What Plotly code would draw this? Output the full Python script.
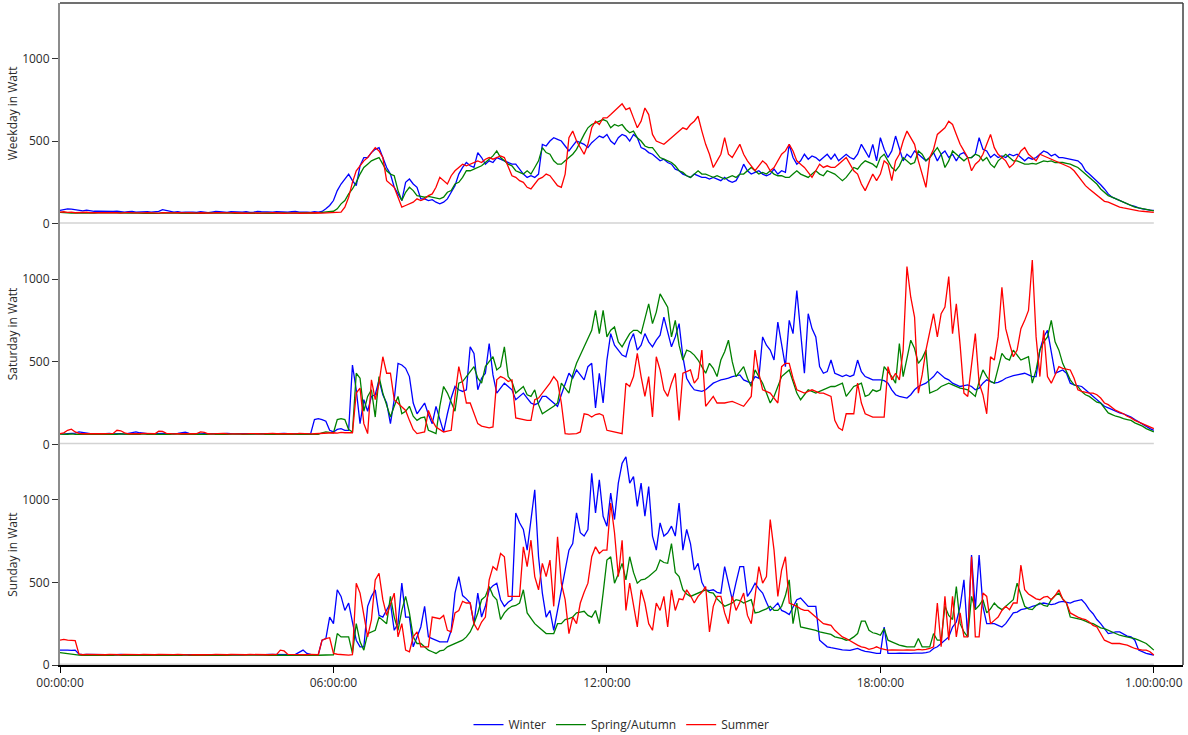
import numpy as np
import plotly.graph_objects as go
from plotly.subplots import make_subplots

# 5-minute samples, 00:00 .. 24:00 (289 values per series)
hours = np.arange(289) / 12.0

tick_hours = [0, 6, 12, 18, 24]
tick_labels = ["00:00:00", "06:00:00", "12:00:00", "18:00:00", "1.00:00:00"]
y_ticks = [0, 500, 1000]

panel_titles = ["Weekday in Watt", "Saturday in Watt", "Sunday in Watt"]
season_names = ["Winter", "Spring/Autumn", "Summer"]

# ---------------- Weekday ----------------
weekday_winter = [
    80, 85, 90, 88, 84, 80, 78, 82, 78, 75, 76, 75,
    75, 72, 74, 76, 72, 70, 72, 74, 70, 72, 71, 73,
    70, 72, 74, 85, 80, 72, 70, 72, 68, 70, 72, 70,
    68, 72, 70, 66, 70, 74, 72, 70, 68, 72, 70, 68,
    70, 72, 68, 70, 74, 72, 70, 68, 70, 72, 70, 72,
    70, 72, 74, 70, 72, 70, 68, 72, 70, 74, 90, 110,
    140, 200, 240, 270, 300, 260, 230, 350, 400, 400, 430, 450,
    460, 400, 340, 300, 220, 180, 140, 250, 270, 240, 220, 150,
    150, 140, 145, 130, 120, 130, 150, 190, 230, 300, 340, 370,
    350, 340, 430, 400, 360, 380, 370, 400, 390, 380, 370, 360,
    360, 330, 300, 280, 290, 280, 300, 480, 470, 500, 520, 510,
    500, 470, 440, 470, 500, 490, 480, 460, 490, 510, 530, 520,
    540, 500, 480, 520, 540, 530, 500, 540, 520, 460, 450, 430,
    420, 400, 380, 390, 370, 360, 330, 320, 300, 290, 280, 300,
    290, 280, 280, 270, 280, 270, 260, 280, 260, 250, 260, 300,
    360, 320, 300, 310, 320, 300, 290, 300, 330, 300, 320, 310,
    480, 400, 360, 380, 420, 390, 410, 400, 380, 400, 420, 390,
    420, 380, 400, 420, 400, 390, 420, 480, 440, 400, 480, 380,
    520, 450, 400, 440, 530, 450, 380, 420, 400, 440, 420, 400,
    380, 400, 430, 380, 420, 440, 400, 420, 380, 420, 430, 400,
    400, 420, 520, 450, 440, 400, 420, 400, 410, 400, 420, 410,
    420, 400, 380, 400, 390, 400, 420, 440, 430, 410, 420, 400,
    400, 395, 390, 385, 380, 360, 320, 300, 280, 260, 235, 210,
    180, 160, 150, 140, 130, 120, 110, 105, 95, 90, 85, 82,
    80,
]
weekday_spring = [
    68, 66, 65, 64, 66, 65, 64, 63, 65, 64, 66, 65,
    64, 63, 65, 66, 64, 62, 64, 65, 63, 64, 62, 64,
    63, 64, 62, 65, 63, 64, 66, 63, 62, 64, 63, 65,
    64, 62, 63, 65, 64, 62, 63, 64, 65, 63, 62, 64,
    63, 65, 64, 62, 63, 64, 65, 63, 62, 64, 63, 65,
    64, 65, 63, 66, 64, 65, 66, 64, 66, 68, 70, 72,
    75, 90, 120, 140, 180, 210, 250, 300, 340, 360, 380, 390,
    400, 360, 320, 300, 290, 200, 140, 190, 220, 200, 170, 165,
    160, 165, 160, 155, 150, 160, 190, 200, 240, 250, 280, 320,
    320, 330, 340, 350, 370, 390, 410, 440, 400, 380, 360, 350,
    320, 310, 300, 320, 300, 340, 380, 460, 430, 420, 380, 360,
    360, 380, 400, 420, 450, 500, 540, 580, 600, 610, 620, 630,
    620, 580, 600, 590, 600, 570, 550, 560, 520, 500, 470, 460,
    460, 430, 400, 390, 380, 370, 350, 320, 310, 290, 280, 300,
    320, 300, 300, 290, 280, 290, 280, 270, 280, 290, 280, 300,
    300, 320, 340, 320, 300, 310, 300, 320, 300, 290, 290, 280,
    280, 300, 320, 300, 290, 280, 300, 320, 300, 290, 320, 310,
    300, 280, 260, 280, 310, 340, 330, 360, 380, 370, 360, 340,
    400, 420, 380, 340, 320, 350, 400, 380, 360, 370, 440, 420,
    380, 400, 430, 460, 420, 340, 380, 440, 420, 400, 380, 400,
    400, 420, 410, 380, 400, 360, 340, 380, 400, 420, 400, 380,
    380, 370, 360, 360, 365, 360, 370, 380, 375, 380, 370, 370,
    370, 365, 360, 350, 340, 320, 300, 280, 260, 240, 210, 190,
    170, 160, 150, 140, 130, 120, 110, 100, 95, 90, 85, 80,
    78,
]
weekday_summer = [
    70, 72, 68, 70, 66, 68, 67, 69, 66, 68, 67, 66,
    67, 65, 68, 66, 64, 66, 68, 65, 64, 66, 65, 67,
    65, 66, 64, 67, 65, 63, 65, 66, 64, 65, 66, 64,
    64, 66, 65, 63, 64, 66, 65, 64, 63, 65, 66, 64,
    65, 63, 64, 66, 65, 64, 63, 65, 66, 64, 65, 63,
    64, 66, 65, 63, 64, 66, 65, 64, 66, 64, 65, 68,
    65, 66, 70, 100, 160, 250, 320, 350, 380, 400, 430, 460,
    440, 400, 260, 240, 220, 160, 100, 110, 120, 130, 150, 140,
    150, 170, 180, 220, 280, 260, 240, 290, 320, 340, 360, 350,
    360, 370, 380, 370, 390, 400, 390, 400, 410, 400, 350, 290,
    280, 260, 250, 220, 210, 240, 270, 280, 300, 290, 260, 230,
    220, 300, 520, 560, 500, 460, 420, 480, 580, 620, 600, 640,
    640, 660, 680, 700, 725, 690, 700, 640, 580, 620, 700, 660,
    540, 500, 490, 480, 500, 520, 540, 560, 580, 570, 600, 620,
    650, 560, 480, 420, 340, 380, 420, 520, 420, 400, 440, 480,
    420, 380, 350, 320, 350, 380, 360, 320, 340, 380, 420, 440,
    480, 440, 380, 360, 340, 310, 280, 320, 360, 340, 350, 340,
    340, 360, 380, 400, 360, 320, 300, 240, 200, 250, 300, 260,
    300, 380, 360, 260, 380, 420, 500, 560, 520, 480, 380, 300,
    220, 400, 450, 540, 560, 580, 620, 600, 540, 480, 440, 400,
    320, 360, 380, 420, 480, 540, 460, 420, 400, 380, 340, 360,
    400, 440, 460, 420, 400, 380, 420, 410, 400, 390, 380, 370,
    360, 350, 340, 320, 290, 260, 230, 210, 190, 170, 150, 135,
    130, 120, 110, 100, 95, 90, 85, 80, 78, 75, 72, 70,
    68,
]

# ---------------- Saturday ----------------
saturday_winter = [
    65, 62, 64, 66, 68, 75, 72, 66, 64, 65, 63, 64,
    64, 66, 63, 65, 64, 62, 66, 72, 75, 70, 65, 64,
    63, 65, 64, 66, 65, 63, 64, 66, 72, 74, 66, 64,
    65, 63, 64, 66, 65, 64, 63, 65, 66, 64, 63, 65,
    64, 66, 65, 63, 64, 65, 66, 64, 63, 65, 64, 66,
    65, 64, 66, 65, 64, 63, 65, 150, 155, 150, 140, 85,
    75, 90, 95, 85, 85, 480, 330, 125, 270, 200, 290, 300,
    390, 300, 250, 125, 270, 490, 480, 460, 410, 250, 185, 220,
    250, 180, 125, 230, 150, 75, 185, 280, 350, 330, 320, 330,
    590, 550, 330, 400, 430, 610, 420, 310, 340, 370, 350, 330,
    270, 290, 310, 280, 250, 240, 250, 290, 290, 270, 250, 230,
    300, 370, 430, 400, 450, 420, 390, 470, 490, 220, 430, 250,
    510, 670, 600, 570, 540, 530, 620, 670, 570, 600, 670, 620,
    590, 630, 660, 770, 680, 590, 650, 730, 530, 400, 360, 330,
    325, 320, 330, 350, 370, 380, 390, 395, 400, 410, 415, 420,
    390, 380, 370, 410, 400, 650, 600, 570, 510, 740, 600, 470,
    750, 670, 930, 690, 430, 790, 700, 650, 470, 430, 440, 510,
    430, 420, 410, 420, 410, 420, 510, 440, 410, 400, 390, 390,
    390, 385, 370, 330, 300, 290, 285, 280, 300, 330, 350, 360,
    370, 390, 410, 440, 420, 400, 390, 370, 360, 350, 355, 360,
    350, 330, 340, 370, 390, 380, 370, 375, 385, 400, 410, 415,
    420, 425, 430, 420, 410, 410, 570, 650, 690, 560, 430, 440,
    450, 430, 370, 360, 355, 350, 330, 310, 290, 270, 250, 230,
    220, 210, 200, 190, 185, 175, 165, 150, 135, 125, 110, 95,
    85,
]
saturday_spring = [
    62, 60, 61, 63, 60, 62, 61, 60, 62, 61, 60, 62,
    61, 60, 62, 61, 63, 60, 61, 62, 60, 61, 63, 60,
    62, 61, 60, 62, 61, 60, 63, 61, 60, 62, 61, 60,
    61, 62, 60, 61, 63, 60, 62, 61, 60, 62, 61, 63,
    60, 61, 62, 60, 61, 63, 60, 62, 61, 60, 62, 61,
    60, 62, 61, 60, 62, 61, 60, 62, 61, 70, 75, 72,
    70, 150, 155, 150, 90, 75, 430, 400, 200, 290, 330, 165,
    410, 310, 240, 165, 230, 290, 185, 200, 230, 170, 145, 160,
    165, 85, 75, 65, 230, 350, 310, 260, 200, 370, 380, 410,
    440, 470, 400, 370, 470, 500, 530, 450, 470, 590, 410, 380,
    310, 330, 350, 300, 290, 330, 240, 185, 200, 210, 230, 250,
    370, 340, 310, 420, 490, 540, 590, 640, 690, 810, 670, 810,
    650, 690, 710, 620, 590, 630, 670, 690, 690, 670, 760, 850,
    730, 800, 910, 870, 830, 650, 750, 600, 510, 570, 560, 540,
    510, 470, 430, 490, 460, 410, 510, 560, 630, 500, 410, 440,
    470, 400, 350, 450, 410, 370, 310, 250, 290, 350, 410, 430,
    450, 380, 310, 270, 300, 330, 320, 310, 320, 330, 340, 350,
    350, 360, 370, 290, 320, 350, 360, 370, 290, 300, 330, 320,
    330, 470, 440, 410, 370, 610, 410, 520, 630, 580, 490, 520,
    570, 310, 320, 330, 350, 360, 370, 360, 350, 340, 335, 330,
    310, 290, 380, 450, 410, 380, 370, 460, 550, 520, 510, 570,
    540, 510, 520, 530, 370, 450, 570, 620, 650, 750, 620, 570,
    490, 440, 390, 360, 350, 320, 300, 290, 270, 255, 250, 220,
    190, 180, 170, 165, 155, 150, 145, 130, 120, 110, 95, 85,
    75,
]
saturday_summer = [
    65, 70, 85, 92, 75, 66, 64, 65, 63, 66, 65, 64,
    63, 65, 66, 85, 82, 70, 64, 63, 65, 64, 66, 64,
    63, 64, 80, 78, 66, 64, 63, 65, 64, 63, 66, 64,
    65, 75, 72, 64, 63, 65, 64, 66, 64, 63, 65, 64,
    64, 63, 65, 66, 64, 63, 65, 64, 66, 64, 63, 65,
    64, 65, 63, 66, 64, 65, 63, 64, 66, 68, 70, 68,
    70, 68, 72, 70, 68, 70, 310, 340, 125, 65, 390, 270,
    370, 530, 430, 430, 270, 250, 230, 205, 145, 90, 65, 70,
    75, 205, 145, 105, 90, 75, 80, 85, 290, 470, 370, 250,
    250, 185, 125, 110, 105, 100, 105, 390, 410, 400, 380, 390,
    160, 155, 150, 145, 145, 270, 280, 310, 340, 370, 410, 380,
    250, 65, 62, 64, 65, 75, 185, 180, 165, 180, 185, 175,
    85, 80, 75, 70, 65, 370, 350, 410, 550, 410, 290, 410,
    165, 530, 450, 330, 290, 370, 430, 145, 430, 440, 450, 370,
    400, 570, 230, 260, 290, 250, 250, 250, 255, 260, 250, 240,
    230, 260, 290, 570, 430, 330, 320, 310, 280, 250, 470, 490,
    490, 400, 330, 320, 310, 320, 330, 320, 310, 310, 300, 290,
    145, 100, 85, 185, 185, 185, 370, 250, 185, 175, 165, 165,
    165, 165, 470, 390, 430, 390, 570, 1075, 890, 770, 310, 420,
    570, 680, 790, 650, 790, 830, 1015, 670, 850, 600, 310, 290,
    480, 670, 370, 300, 185, 530, 510, 650, 950, 700, 610, 530,
    570, 700, 750, 810, 1115, 650, 410, 690, 410, 370, 420, 470,
    460, 455, 450, 400, 330, 320, 315, 310, 310, 300, 280, 250,
    240, 220, 205, 195, 185, 170, 160, 145, 135, 125, 115, 105,
    95,
]

# ---------------- Sunday ----------------
sunday_winter = [
    90, 92, 90, 88, 90, 65, 62, 64, 63, 62, 64, 63,
    62, 63, 61, 62, 64, 62, 61, 63, 62, 64, 62, 61,
    63, 62, 64, 61, 62, 63, 62, 64, 62, 61, 63, 62,
    62, 64, 63, 62, 61, 63, 64, 62, 63, 62, 61, 63,
    62, 63, 62, 64, 63, 61, 62, 64, 63, 62, 63, 62,
    63, 62, 64, 75, 90, 70, 64, 63, 62, 150, 160, 290,
    250, 455, 415, 330, 375, 260, 150, 110, 110, 355, 415, 455,
    300, 290, 330, 375, 210, 250, 495, 290, 290, 110, 170, 230,
    355, 170, 160, 150, 140, 140, 140, 210, 435, 535, 420, 400,
    375, 250, 435, 290, 355, 455, 480, 495, 395, 355, 380, 395,
    920, 860, 820, 695, 880, 1060, 655, 435, 290, 330, 210, 330,
    455, 560, 695, 735, 920, 800, 780, 820, 1160, 920, 1120, 900,
    840, 1040, 880, 1100, 1220, 1260, 1100, 1140, 960, 1100, 900, 1080,
    780, 695, 860, 780, 800, 840, 780, 980, 695, 820, 735, 575,
    615, 500, 455, 450, 455, 440, 435, 595, 495, 395, 500, 595,
    595, 415, 450, 495, 460, 435, 380, 330, 350, 375, 330, 320,
    305, 350, 395, 405, 380, 355, 355, 355, 150, 130, 110, 105,
    100, 95, 92, 90, 88, 95, 100, 90, 82, 80, 75, 70,
    70, 230, 70, 68, 70, 72, 70, 68, 70, 72, 70, 72,
    75, 80, 100, 110, 130, 150, 170, 230, 260, 355, 515, 170,
    665, 335, 665, 355, 250, 250, 250, 240, 230, 250, 280, 315,
    320, 335, 340, 345, 355, 360, 370, 375, 370, 365, 370, 380,
    385, 380, 375, 385, 390, 395, 370, 335, 310, 275, 250, 220,
    190, 195, 200, 200, 185, 175, 170, 150, 90, 80, 70, 65,
    60,
]
sunday_spring = [
    75, 72, 68, 62, 60, 60, 58, 60, 59, 60, 58, 60,
    59, 60, 58, 61, 59, 60, 58, 59, 61, 60, 58, 59,
    60, 58, 59, 61, 60, 59, 58, 60, 59, 61, 58, 60,
    59, 61, 60, 58, 59, 60, 61, 59, 58, 60, 59, 61,
    60, 59, 58, 60, 61, 59, 60, 58, 59, 61, 60, 59,
    60, 59, 61, 60, 58, 60, 62, 60, 59, 60, 61, 60,
    62, 190, 170, 170, 170, 70, 250, 140, 90, 190, 200, 210,
    290, 270, 250, 415, 290, 210, 330, 415, 315, 170, 130, 130,
    110, 90, 80, 70, 85, 90, 110, 120, 130, 140, 150, 170,
    200, 250, 315, 395, 415, 475, 420, 395, 275, 315, 340, 355,
    360, 375, 455, 315, 280, 250, 230, 210, 190, 190, 190, 250,
    250, 275, 280, 290, 315, 320, 325, 300, 290, 330, 250, 435,
    635, 655, 495, 550, 615, 515, 655, 560, 495, 515, 520, 535,
    555, 575, 635, 620, 615, 735, 560, 535, 455, 430, 415, 425,
    435, 445, 455, 440, 435, 400, 375, 355, 365, 375, 395, 390,
    375, 385, 395, 315, 320, 330, 340, 355, 330, 330, 355, 420,
    515, 250, 375, 230, 225, 220, 215, 210, 200, 195, 190, 185,
    170, 165, 160, 150, 155, 170, 190, 265, 265, 210, 195, 190,
    180, 220, 150, 140, 130, 120, 115, 110, 110, 110, 160, 110,
    110, 110, 190, 150, 150, 355, 300, 275, 475, 250, 200, 170,
    415, 335, 360, 395, 315, 340, 375, 350, 335, 355, 375, 395,
    495, 420, 355, 340, 335, 360, 375, 360, 355, 395, 420, 435,
    400, 375, 290, 285, 280, 275, 265, 255, 250, 235, 225, 220,
    210, 200, 190, 180, 175, 170, 165, 160, 150, 140, 130, 110,
    90,
]
sunday_summer = [
    150, 155, 150, 150, 148, 65, 62, 64, 63, 62, 64, 63,
    62, 64, 63, 61, 62, 64, 63, 62, 61, 63, 64, 62,
    63, 62, 64, 63, 61, 62, 63, 64, 62, 63, 61, 62,
    64, 63, 62, 61, 63, 64, 62, 63, 62, 64, 63, 61,
    63, 62, 64, 63, 62, 64, 63, 62, 64, 63, 90, 85,
    64, 63, 62, 64, 63, 62, 64, 63, 62, 150, 160, 165,
    70, 65, 62, 60, 60, 62, 495, 435, 290, 170, 275, 515,
    555, 395, 300, 375, 435, 170, 250, 90, 80, 170, 200, 110,
    110, 110, 290, 285, 280, 300, 210, 200, 315, 330, 385, 375,
    375, 250, 210, 260, 290, 515, 595, 575, 675, 655, 415, 415,
    415, 415, 715, 595, 755, 535, 455, 615, 535, 635, 355, 775,
    495, 395, 190, 290, 250, 375, 440, 495, 655, 715, 675, 695,
    695, 980, 800, 535, 755, 330, 495, 355, 230, 455, 375, 250,
    210, 375, 330, 415, 230, 455, 330, 400, 395, 455, 420, 375,
    415, 440, 475, 200, 355, 415, 415, 315, 250, 415, 330, 380,
    435, 300, 250, 415, 595, 495, 535, 880, 695, 415, 575, 655,
    375, 365, 355, 340, 330, 330, 310, 290, 265, 250, 245, 240,
    210, 190, 170, 160, 145, 130, 120, 110, 105, 95, 100, 110,
    100, 95, 90, 92, 90, 88, 90, 92, 90, 90, 95, 92,
    95, 100, 110, 375, 110, 415, 150, 415, 170, 315, 170, 170,
    655, 170, 170, 435, 415, 250, 270, 290, 330, 355, 335, 375,
    375, 605, 455, 430, 415, 400, 395, 410, 415, 395, 420, 455,
    400, 375, 315, 300, 290, 280, 275, 260, 240, 230, 190, 150,
    140, 130, 130, 130, 125, 120, 110, 100, 95, 90, 90, 80,
    60,
]

panels = [
    [weekday_winter, weekday_spring, weekday_summer],
    [saturday_winter, saturday_spring, saturday_summer],
    [sunday_winter, sunday_spring, sunday_summer],
]
colors = ["#0000ff", "#008000", "#ff0000"]

font_family = "Segoe UI, Open Sans, Noto Sans, sans-serif"
text_color = "#2b2b2b"

fig = make_subplots(rows=3, cols=1, shared_xaxes=True, vertical_spacing=0)

for r, series in enumerate(panels, start=1):
    # light grey baseline under the curves
    fig.add_trace(go.Scatter(
        x=[hours[0], hours[-1]], y=[0, 0], mode="lines",
        line=dict(color="#d3d3d3", width=3), showlegend=False, hoverinfo="skip",
    ), row=r, col=1)
    for s, values in enumerate(series):
        fig.add_trace(go.Scatter(
            x=hours, y=values, mode="lines", name=season_names[s],
            line=dict(color=colors[s], width=1.3),
            showlegend=(r == 1), legendgroup=season_names[s],
        ), row=r, col=1)

domains = [[2 / 3, 1.0], [1 / 3, 2 / 3], [0.0, 1 / 3]]
for r in range(1, 4):
    yname = "yaxis" if r == 1 else f"yaxis{r}"
    xname = "xaxis" if r == 1 else f"xaxis{r}"
    fig.layout[yname].update(
        domain=domains[r - 1], range=[0, 1335], automargin=False,
        tickvals=y_ticks, ticks="outside", ticklen=6, tickcolor="#333333",
        showline=True, linecolor="#8c8c8c", linewidth=2,
        showgrid=False, zeroline=False,
        tickfont=dict(size=12, color=text_color, family=font_family),
        title=dict(text=panel_titles[r - 1], standoff=2,
                   font=dict(size=12, color=text_color, family=font_family)),
    )
    fig.layout[xname].update(
        range=[0, 24.64], showgrid=False, zeroline=False, automargin=False,
        showline=False, ticks="", showticklabels=False,
    )

fig.update_xaxes(
    showline=True, linecolor="#000000", linewidth=2,
    ticks="outside", ticklen=6, tickcolor="#000000",
    tickvals=tick_hours, ticktext=tick_labels, showticklabels=True,
    tickfont=dict(size=12, color=text_color, family=font_family),
    row=3, col=1,
)

# frame: top and right border
fig.add_shape(type="line", xref="paper", yref="paper", x0=0, x1=1, y0=1, y1=1,
              line=dict(color="#404040", width=1.5))
fig.add_shape(type="line", xref="paper", yref="paper", x0=1, x1=1, y0=0, y1=1,
              line=dict(color="#404040", width=1.5))

fig.update_layout(
    width=1188, height=735,
    margin=dict(l=60, r=5, t=3, b=70, autoexpand=False),
    plot_bgcolor="white", paper_bgcolor="white",
    font=dict(family=font_family, size=12, color=text_color),
    legend=dict(orientation="h", x=0.5, xanchor="center", y=-0.09, yanchor="middle",
                font=dict(size=12, color=text_color), itemwidth=30),
    hovermode=False,
)

# drop the default 8px page margin so the figure sits at the window origin
fig.write_html("out.html", config={"displayModeBar": False},
               post_script="document.body.style.margin='0';")
